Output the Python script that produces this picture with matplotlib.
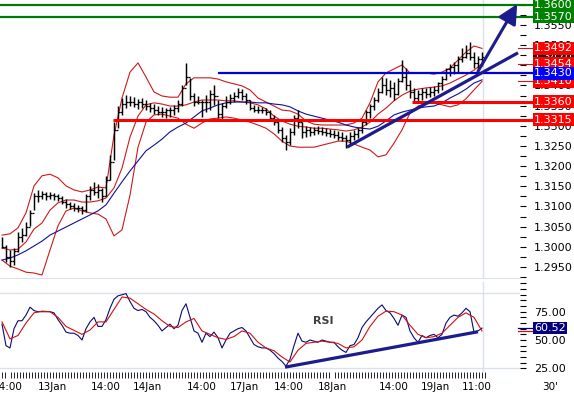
import numpy as np
import matplotlib
matplotlib.use("Agg")
import matplotlib.pyplot as plt
from matplotlib.ticker import FixedLocator

plt.rcParams['font.family'] = ['DejaVu Sans']

# ---------------- data (hourly bars) ----------------
high = [1.3024,1.3004,1.2992,1.2997,1.3037,1.3047,1.3061,1.3091,1.3133,1.3141,
        1.3138,1.3136,1.3136,1.3133,1.3131,1.3126,1.3118,1.3111,1.3109,1.3104,
        1.3101,1.3131,1.3151,1.3161,1.3156,1.3146,1.3176,1.3228,1.3309,1.3349,
        1.3369,1.3376,1.3374,1.3371,1.3367,1.3369,1.3364,1.3357,1.3354,1.3349,
        1.3347,1.3344,1.3347,1.3352,1.3364,1.3401,1.3456,1.3419,1.3381,1.3374,
        1.3364,1.3376,1.3389,1.3401,1.3364,1.3357,1.3374,1.3379,1.3384,1.3394,
        1.3391,1.3381,1.3364,1.3352,1.3349,1.3347,1.3344,1.3339,1.3327,1.3314,
        1.3297,1.3277,1.3294,1.3327,1.3339,1.3309,1.3299,1.3297,1.3297,1.3299,
        1.3297,1.3294,1.3292,1.3290,1.3287,1.3285,1.3277,1.3285,1.3290,1.3294,
        1.3314,1.3339,1.3354,1.3371,1.3394,1.3421,1.3419,1.3414,1.3409,1.3419,
        1.3463,1.3443,1.3414,1.3394,1.3389,1.3394,1.3394,1.3396,1.3399,1.3409,
        1.3424,1.3443,1.3453,1.3458,1.3473,1.3493,1.3500,1.3508,1.3483,1.3473,
        1.3483]
low = [1.2997,1.2962,1.2950,1.2955,1.2987,1.3012,1.3027,1.3052,1.3091,1.3111,
       1.3118,1.3116,1.3118,1.3116,1.3114,1.3106,1.3096,1.3094,1.3089,1.3086,
       1.3081,1.3086,1.3116,1.3128,1.3121,1.3111,1.3126,1.3166,1.3215,1.3294,
       1.3327,1.3344,1.3349,1.3347,1.3342,1.3344,1.3339,1.3334,1.3329,1.3327,
       1.3322,1.3319,1.3322,1.3327,1.3334,1.3349,1.3401,1.3364,1.3349,1.3354,
       1.3322,1.3334,1.3339,1.3352,1.3319,1.3314,1.3344,1.3354,1.3359,1.3369,
       1.3364,1.3354,1.3339,1.3334,1.3332,1.3332,1.3327,1.3314,1.3302,1.3282,
       1.3260,1.3240,1.3252,1.3277,1.3294,1.3270,1.3272,1.3275,1.3277,1.3280,
       1.3277,1.3275,1.3272,1.3270,1.3265,1.3262,1.3245,1.3255,1.3265,1.3270,
       1.3282,1.3302,1.3319,1.3339,1.3359,1.3381,1.3376,1.3371,1.3364,1.3376,
       1.3409,1.3389,1.3369,1.3359,1.3357,1.3364,1.3369,1.3371,1.3374,1.3381,
       1.3389,1.3414,1.3424,1.3428,1.3433,1.3458,1.3468,1.3463,1.3443,1.3438,
       1.3448]
close = [1.3000,1.2975,1.2965,1.2990,1.3025,1.3030,1.3050,1.3085,1.3125,1.3125,
         1.3130,1.3125,1.3128,1.3125,1.3120,1.3110,1.3105,1.3100,1.3095,1.3095,
         1.3090,1.3125,1.3140,1.3135,1.3140,1.3125,1.3165,1.3210,1.3290,1.3335,
         1.3355,1.3360,1.3360,1.3355,1.3360,1.3355,1.3350,1.3345,1.3340,1.3335,
         1.3335,1.3340,1.3340,1.3345,1.3355,1.3395,1.3420,1.3375,1.3360,1.3360,
         1.3360,1.3360,1.3380,1.3375,1.3330,1.3350,1.3360,1.3370,1.3375,1.3385,
         1.3375,1.3365,1.3345,1.3340,1.3340,1.3338,1.3335,1.3320,1.3310,1.3290,
         1.3270,1.3260,1.3285,1.3320,1.3310,1.3285,1.3290,1.3285,1.3290,1.3288,
         1.3285,1.3282,1.3280,1.3278,1.3272,1.3270,1.3265,1.3275,1.3280,1.3290,
         1.3310,1.3335,1.3350,1.3365,1.3385,1.3400,1.3390,1.3395,1.3380,1.3410,
         1.3420,1.3400,1.3385,1.3370,1.3380,1.3385,1.3380,1.3385,1.3390,1.3405,
         1.3415,1.3440,1.3445,1.3450,1.3465,1.3470,1.3480,1.3470,1.3455,1.3465,
         1.3470]

# indicators, read every second bar
bb_upper = [1.3029,1.3032,1.3047,1.3084,1.3151,1.3176,1.3180,1.3171,1.3151,1.3141,
            1.3136,1.3141,1.3148,1.3146,1.3277,1.3369,1.3433,1.3456,1.3421,1.3384,
            1.3374,1.3371,1.3371,1.3404,1.3419,1.3419,1.3419,1.3416,1.3409,1.3404,
            1.3399,1.3389,1.3369,1.3359,1.3349,1.3339,1.3337,1.3329,1.3312,1.3304,
            1.3302,1.3302,1.3302,1.3302,1.3307,1.3319,1.3357,1.3409,1.3431,1.3441,
            1.3451,1.3431,1.3431,1.3431,1.3428,1.3433,1.3443,1.3463,1.3483,1.3498,
            1.3492]
bb_lower = [1.2967,1.2952,1.2945,1.2937,1.2935,1.2930,1.2992,1.3052,1.3089,1.3096,
            1.3089,1.3084,1.3081,1.3069,1.3027,1.3042,1.3128,1.3247,1.3309,1.3327,
            1.3329,1.3324,1.3319,1.3304,1.3294,1.3307,1.3317,1.3319,1.3322,1.3319,
            1.3314,1.3309,1.3302,1.3294,1.3280,1.3262,1.3250,1.3247,1.3247,1.3247,
            1.3252,1.3257,1.3262,1.3262,1.3255,1.3247,1.3240,1.3223,1.3228,1.3257,
            1.3290,1.3332,1.3349,1.3354,1.3357,1.3352,1.3347,1.3352,1.3367,1.3389,
            1.3410]
bb_mid = [1.2997,1.2992,1.2994,1.3012,1.3044,1.3059,1.3091,1.3109,1.3116,1.3116,
          1.3111,1.3111,1.3114,1.3121,1.3146,1.3195,1.3272,1.3324,1.3352,1.3357,
          1.3354,1.3349,1.3349,1.3352,1.3359,1.3364,1.3364,1.3364,1.3362,1.3362,
          1.3359,1.3357,1.3352,1.3342,1.3324,1.3312,1.3304,1.3299,1.3297,1.3294,
          1.3294,1.3292,1.3290,1.3287,1.3290,1.3297,1.3309,1.3329,1.3344,1.3362,
          1.3376,1.3386,1.3391,1.3394,1.3396,1.3399,1.3406,1.3416,1.3426,1.3438,
          1.3454]
ma_blue = [1.2967,1.2972,1.2980,1.2990,1.3002,1.3014,1.3029,1.3039,1.3049,1.3059,
           1.3069,1.3079,1.3089,1.3104,1.3133,1.3161,1.3188,1.3213,1.3238,1.3252,
           1.3267,1.3285,1.3297,1.3307,1.3322,1.3337,1.3344,1.3352,1.3357,1.3359,
           1.3359,1.3359,1.3357,1.3357,1.3354,1.3352,1.3347,1.3337,1.3329,1.3324,
           1.3319,1.3314,1.3309,1.3302,1.3297,1.3294,1.3292,1.3299,1.3312,1.3327,
           1.3334,1.3339,1.3344,1.3347,1.3349,1.3357,1.3369,1.3379,1.3391,1.3406,
           1.3414]

rsi = [64,45,43,60,67,67,72,79,76,75,
       75,75,75,74,68,63,57,56,56,54,
       50,60,66,70,62,62,68,78,86,89,
       90,91,84,78,76,77,75,70,67,63,
       58,61,64,60,63,76,82,70,58,56,
       48,56,53,57,52,43,50,56,58,60,
       61,58,52,46,44,43,43,41,38,34,
       31,27,33,45,56,49,48,50,49,48,
       50,49,48,48,44,41,39,45,46,52,
       61,66,70,74,78,81,76,74,69,63,
       72,70,58,52,48,54,52,54,55,52,
       55,65,70,72,71,74,78,75,57,58,
       60.52]
rsi_signal = [66,51,54,65,74,75.5,75,70,62,58.5,
              55,58.8,66,66,77,88,87,82,77,73,
              67,62,61,66,69,58,55,52,50.5,53,
              58,56,48,43,40.5,35,30.6,41,47,48,
              49,48,47,43,44,50,62,71,75.5,75,
              72,63,55,52,53,56,63,70,74,70,
              58]

# drawn levels / lines
level_values = [1.3600, 1.3570, 1.3430, 1.3360, 1.3315]
level_starts = [-0.5, -0.5, 54.0, 102.5, 27.75]
level_colors = ['#007a00', '#007a00', '#0000d8', '#ff0000', '#ff0000']
trend_x, trend_y = [86.25, 129.0], [1.3247, 1.3481]
arrow_from, arrow_to = (119.0, 1.3435), (128.8, 1.3602)
rsi_trend_x, rsi_trend_y = [70.75, 119.0], [26.0, 57.3]

y_tick_values = [1.2950, 1.3000, 1.3050, 1.3100, 1.3150, 1.3200, 1.3250,
                 1.3300, 1.3350, 1.3400, 1.3450, 1.3500, 1.3550]
rsi_tick_values = [25, 50, 75]
x_labels = ["14:00", "13Jan", "14:00", "14Jan", "14:00", "17Jan",
            "14:00", "18Jan", "14:00", "19Jan", "11:00"]
x_label_pos = [1.5, 12.5, 26.0, 36.25, 50.0, 60.5, 71.75, 82.5, 98.0, 108.25, 118.75]

# ---------------- figure ----------------
W, H = 574, 396
fig = plt.figure(figsize=(W / 100, H / 100), dpi=100)
fig.patch.set_facecolor('white')

XL = (-0.5, 129.5)
LINE_END = 132.75
BOX_X = 133.0
light = '#dbe1ea'
navy = '#1c1c8c'
bbred = '#cc1a1a'

ax = fig.add_axes([0, 1 - 278 / H, 520 / W, 278 / H])
ax2 = fig.add_axes([0, 1 - 372 / H, 520 / W, 90 / H])

n = len(close)
idx = np.arange(n)
idx2 = np.arange(0, n, 2)

# main panel
ax.set_xlim(*XL)
ax.set_ylim(1.29226, 1.3612)
for s in ['top', 'left', 'right']:
    ax.spines[s].set_visible(False)
ax.spines['bottom'].set_color(light)
ax.set_xticks([])
ax.yaxis.tick_right()
ax.set_yticks(y_tick_values)
ax.set_yticklabels([f"{v:.4f}" for v in y_tick_values])
minor_main = [y_tick_values[0] - 0.0025] + [v + 0.0025 for v in y_tick_values] + [1.3600]
ax.yaxis.set_minor_locator(FixedLocator(minor_main))
ax.tick_params(axis='y', which='both', direction='out', length=4, width=0.8,
               pad=6, labelsize=8, colors='black')

ax.axvline(120.25, color=light, lw=1, zorder=0)

# bollinger bands and moving average
ax.plot(idx2, bb_upper, color=bbred, lw=0.8, zorder=2)
ax.plot(idx2, bb_lower, color=bbred, lw=0.8, zorder=2)
ax.plot(idx2, bb_mid, color=bbred, lw=0.8, zorder=2)
ax.plot(idx2, ma_blue, color='#10109a', lw=0.8, zorder=2)

# price bars
ax.vlines(idx, low, high, color='black', lw=1.05, zorder=3)
ax.hlines(close, idx, idx + 0.45, color='black', lw=0.9, zorder=3)
ax.hlines(close[:-1], idx[1:] - 0.45, idx[1:], color='black', lw=0.9, zorder=3)

# horizontal levels
for v, s0, c in zip(level_values, level_starts, level_colors):
    lw = 2.2 if c == '#ff0000' else 1.6
    ax.plot([s0, LINE_END], [v, v], color=c, lw=lw, clip_on=False, zorder=4,
            solid_capstyle='butt')

# trendline and arrow
ax.plot(trend_x, trend_y, color=navy, lw=2.3, zorder=5, solid_capstyle='butt')
ax.annotate("", xy=arrow_to, xytext=arrow_from, annotation_clip=False,
            arrowprops=dict(arrowstyle="-|>,head_length=0.9,head_width=0.45",
                            color=navy, lw=2.2, shrinkA=0, shrinkB=0,
                            mutation_scale=13), zorder=5)

# indicator markers at right
for v in [bb_upper[-1], bb_mid[-1], bb_lower[-1]]:
    ax.plot([129.0, LINE_END], [v, v], color=bbred, lw=0.8, clip_on=False, zorder=4)

def box(axis, x, v, txt, fc, z):
    axis.text(x, v, txt, ha='left', va='center', fontsize=8, color='white',
              bbox=dict(boxstyle='square,pad=0.12', fc=fc, ec='none'),
              clip_on=False, zorder=z)

box(ax, BOX_X, close[-1], f"{close[-1]:.4f}", 'black', 6)
box(ax, BOX_X, bb_upper[-1], f"{bb_upper[-1]:.4f}", '#ff0000', 7)
box(ax, BOX_X, bb_mid[-1], f"{bb_mid[-1]:.4f}", '#ff0000', 7)
box(ax, BOX_X, bb_lower[-1], f"{bb_lower[-1]:.4f}", '#ff0000', 7)
box(ax, BOX_X, level_values[2], f"{level_values[2]:.4f}", '#0000ff', 8)
box(ax, BOX_X, level_values[3], f"{level_values[3]:.4f}", '#ff0000', 8)
box(ax, BOX_X, level_values[4], f"{level_values[4]:.4f}", '#ff0000', 8)
box(ax, BOX_X, level_values[1], f"{level_values[1]:.4f}", '#008000', 8)
box(ax, BOX_X, level_values[0], f"{level_values[0]:.4f}", '#008000', 8)

# RSI panel
ax2.set_xlim(*XL)
ax2.set_ylim(21.73, 101.24)
for s in ax2.spines.values():
    s.set_visible(False)
ax2.axhline(91.5, color=light, lw=1, zorder=0)
ax2.axhline(25, color=light, lw=1, zorder=0)
ax2.axvline(120.25, color=light, lw=1, zorder=0)
ax2.yaxis.tick_right()
ax2.set_yticks(rsi_tick_values)
ax2.set_yticklabels([f"{v:.2f}" for v in rsi_tick_values])
ax2.yaxis.set_minor_locator(FixedLocator([v for v in range(30, 101, 5) if v not in rsi_tick_values]))
ax2.tick_params(axis='y', which='both', direction='out', length=4, width=0.8,
                pad=6, labelsize=8, colors='black')

ax2.set_xticks(x_label_pos)
ax2.set_xticklabels(x_labels)
ax2.xaxis.set_minor_locator(FixedLocator(np.arange(0, n, 0.75)))
ax2.tick_params(axis='x', which='major', length=0, pad=7, labelsize=7.5)
ax2.tick_params(axis='x', which='minor', length=4.2, width=0.6, direction='out')

ax2.plot(idx, rsi, color='#0a0a70', lw=0.8, zorder=3)
ax2.plot(idx2, rsi_signal, color='#d01010', lw=0.8, zorder=3)
ax2.plot(rsi_trend_x, rsi_trend_y, color=navy, lw=2.3, zorder=4, solid_capstyle='butt')
ax2.text(80.2, 67, "RSI", fontsize=8, fontweight='bold', color='#404040',
         ha='center', va='center')

ax2.plot([129.0, LINE_END], [rsi_signal[-1]] * 2, color='#d01010', lw=0.9, clip_on=False)
ax2.plot([129.0, LINE_END], [rsi[-1]] * 2, color='#000080', lw=0.9, clip_on=False)
box(ax2, BOX_X, rsi[-1], f"{rsi[-1]:.2f}", '#000080', 6)

fig.text(550 / W, 1 - 387 / H, "30'", ha='center', va='center', fontsize=7.5)

fig.savefig("out.png", dpi=100, facecolor='white')
